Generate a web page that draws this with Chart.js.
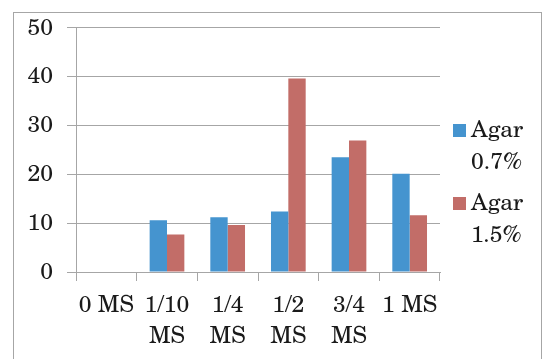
<!DOCTYPE html>
<html>
<head>
<meta charset="utf-8">
<script src="https://cdn.jsdelivr.net/npm/chart.js@4/dist/chart.umd.min.js"></script>
<style>
  html, body { margin: 0; padding: 0; background: #fff; }
  #wrap { width: 546px; height: 359px; position: relative; }
</style>
</head>
<body>
<div id="wrap"><canvas id="c" width="546" height="359"></canvas></div>
<script>
// Medium strength categories (two-line tick labels)
const categories = [['0 MS'], ['1/10', 'MS'], ['1/4', 'MS'], ['1/2', 'MS'], ['3/4', 'MS'], ['1 MS']];
// Values per agar concentration
const agar07 = [0, 10.6, 11.2, 12.4, 23.5, 20.1];
const agar15 = [0, 7.7, 9.6, 39.6, 26.9, 11.6];
const seriesLabels = [['Agar', '0.7%'], ['Agar', '1.5%']];
const yTicks = [0, 10, 20, 30, 40, 50];

const FONT = '"TeX Gyre Schola", "Noto Serif", "Liberation Serif", serif';
const FSIZE = 23;
const BLUE = '#4594CF';
const RED = '#C26D68';
const GRID = '#A6A6A6';
const TEXT = '#1a1a1a';

// Outer frame and side legend drawn on the canvas
const framePlugin = {
  id: 'frame',
  beforeDraw(chart) {
    const ctx = chart.ctx;
    ctx.save();
    ctx.strokeStyle = GRID;
    ctx.lineWidth = 1;
    ctx.strokeRect(13.5, 12.5, 528, 400);
    ctx.restore();
  },
  afterDraw(chart) {
    const ctx = chart.ctx;
    ctx.save();
    ctx.font = 'normal ' + FSIZE + 'px ' + FONT;
    ctx.textBaseline = 'middle';
    ctx.textAlign = 'left';
    const startY = 130;
    const step = 73;
    chart.data.datasets.forEach((ds, i) => {
      const y = startY + i * step;
      ctx.fillStyle = ds.backgroundColor;
      ctx.fillRect(453, y - 6, 13, 13);
      ctx.fillStyle = TEXT;
      ds.label.forEach((line, j) => {
        ctx.fillText(line, 471, y + j * 32);
      });
    });
    ctx.restore();
  }
};

function draw() {
  new Chart(document.getElementById('c'), {
    type: 'bar',
    data: {
      labels: categories,
      datasets: [
        { label: seriesLabels[0], data: agar07, backgroundColor: BLUE },
        { label: seriesLabels[1], data: agar15, backgroundColor: RED }
      ]
    },
    options: {
      responsive: false,
      animation: false,
      devicePixelRatio: 1,
      layout: { padding: { left: 16, right: 106, top: 27, bottom: 0 } },
      datasets: { bar: { categoryPercentage: 0.572, barPercentage: 1.0 } },
      plugins: { legend: { display: false }, tooltip: { enabled: false } },
      scales: {
        x: {
          grid: { display: true, drawOnChartArea: false, drawTicks: true, tickLength: 9, color: GRID, offset: true },
          border: { color: GRID },
          ticks: { font: { family: FONT, size: FSIZE, style: 'normal', lineHeight: 1.35 }, color: TEXT, padding: 9, maxRotation: 0, autoSkip: false },
          afterFit(s) { s.height = 87; }
        },
        y: {
          min: 0, max: 50,
          afterBuildTicks(s) { s.ticks = yTicks.map(v => ({ value: v })); },
          grid: { color: GRID, tickLength: 9, lineWidth: 1 },
          border: { color: GRID },
          ticks: { font: { family: FONT, size: FSIZE, style: 'normal' }, color: TEXT, padding: 14 },
          afterFit(s) { s.width = 60; }
        }
      }
    },
    plugins: [framePlugin]
  });
}

if (document.fonts && document.fonts.load) {
  document.fonts.load('normal ' + FSIZE + 'px "TeX Gyre Schola"').then(draw, draw);
} else {
  draw();
}
</script>
</body>
</html>
